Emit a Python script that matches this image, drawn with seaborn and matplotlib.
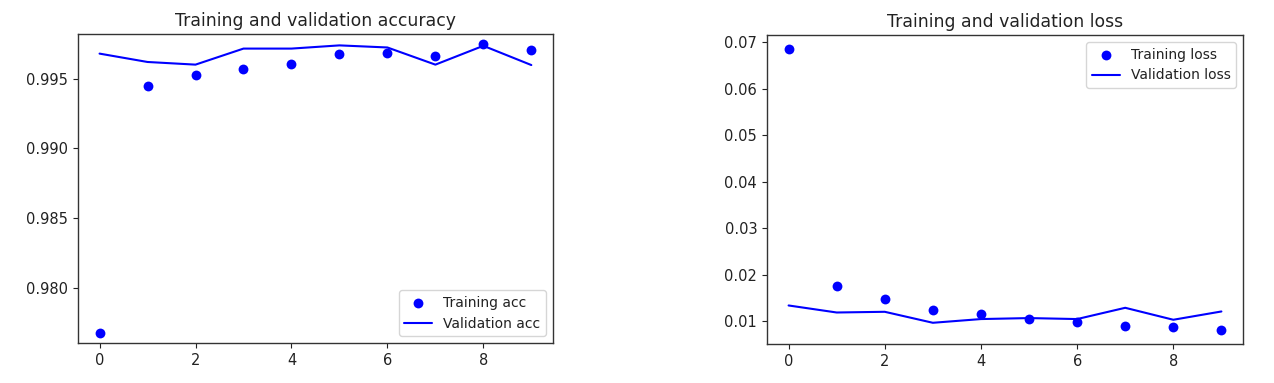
import matplotlib
matplotlib.use("Agg")
import matplotlib.pyplot as plt
import seaborn as sns
import pandas as pd

epochs = [0, 1, 2, 3, 4, 5, 6, 7, 8, 9]
train_acc = [0.97675, 0.99446, 0.9953, 0.99572, 0.99606, 0.99677, 0.99687, 0.99665, 0.99749, 0.99709]
val_acc = [0.99680, 0.99620, 0.99601, 0.99716, 0.99716, 0.99739, 0.99724, 0.99601, 0.99736, 0.99598]
train_loss = [0.0685, 0.01767, 0.01487, 0.01245, 0.01159, 0.01058, 0.00994, 0.00908, 0.0088, 0.00815]
val_loss = [0.01344, 0.01193, 0.01208, 0.00972, 0.01052, 0.01073, 0.01052, 0.01294, 0.01037, 0.01215]

sns.set_style("ticks")
plt.rcParams['font.family'] = ['DejaVu Sans']

fig = plt.figure(figsize=(12.74, 3.83), dpi=100)
ax1 = fig.add_axes([0.0612, 0.1044, 0.3728, 0.8066])
ax2 = fig.add_axes([0.602, 0.1018, 0.3737, 0.8068])

df = pd.DataFrame({"epoch": epochs, "train_acc": train_acc, "val_acc": val_acc,
                   "train_loss": train_loss, "val_loss": val_loss})

def panel(ax, tcol, vcol, tlabel, vlabel, title, loc):
    sns.scatterplot(data=df, x="epoch", y=tcol, ax=ax, color="blue", s=50,
                    edgecolor="blue", linewidth=0, label=tlabel)
    sns.lineplot(data=df, x="epoch", y=vcol, ax=ax, color="blue", linewidth=1.5,
                 label=vlabel)
    ax.set_title(title, fontsize=12.4, color="#222222")
    ax.set_xlabel("")
    ax.set_ylabel("")
    ax.tick_params(labelsize=10.5, colors="#222222")
    for s in ax.spines.values():
        s.set_color("#333333")
        s.set_linewidth(1.0)
    ax.set_xticks([0, 2, 4, 6, 8])
    leg = ax.legend(loc=loc, fontsize=10, frameon=True)
    for t in leg.get_texts():
        t.set_color("#222222")

panel(ax1, "train_acc", "val_acc", "Training acc", "Validation acc",
      "Training and validation accuracy", "lower right")
ax1.set_ylim(0.97605, 0.99820)
ax1.set_yticks([0.980, 0.985, 0.990, 0.995])
ax1.set_xlim(-0.45, 9.45)

panel(ax2, "train_loss", "val_loss", "Training loss", "Validation loss",
      "Training and validation loss", "upper right")
ax2.set_ylim(0.00516, 0.07154)
ax2.set_xlim(-0.45, 9.45)

fig.savefig("out.png", dpi=100)
